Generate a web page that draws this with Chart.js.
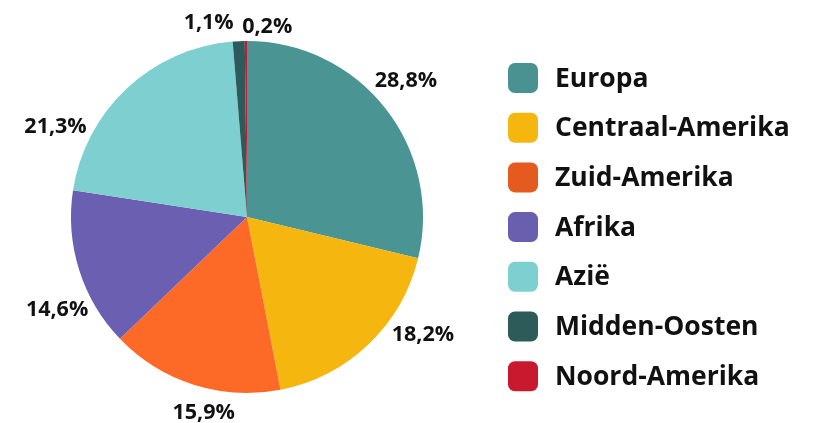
<!DOCTYPE html>
<html>
<head>
<meta charset="utf-8">
<script src="https://cdn.jsdelivr.net/npm/chart.js@4"></script>
<style>
  html, body { margin: 0; padding: 0; background: #fff; }
  #wrap { width: 814px; height: 423px; position: relative; }
</style>
</head>
<body>
<div id="wrap"><canvas id="myChart" width="814" height="423"></canvas></div>
<script>
let regions = ["Europa", "Centraal-Amerika", "Zuid-Amerika", "Afrika", "Azië", "Midden-Oosten", "Noord-Amerika"];
let shares = [28.8, 18.2, 15.9, 14.6, 21.3, 1.1, 0.2];
let sliceColors = ["#4a9594", "#f5b60f", "#fd6a27", "#6a5fb0", "#7ecfcf", "#2d5a5a", "#c8172e"];
let legendColors = ["#4a9292", "#f5b70f", "#e55b1f", "#6a5fae", "#7ecfcf", "#2d5b5a", "#c8192e"];

const FONT = "'Open Sans', 'Noto Sans', sans-serif";

// percentage labels outside the slices
const pctLabels = {
  id: "pctLabels",
  afterDatasetsDraw(chart, args, opts) {
    let ctx = chart.ctx;
    let arcs = chart.getDatasetMeta(0).data;
    ctx.save();
    ctx.font = "bold 21.5px " + FONT;
    ctx.fillStyle = "#111";
    ctx.textAlign = "center";
    ctx.textBaseline = "middle";
    arcs.forEach((arc, i) => {
      let mid = (arc.startAngle + arc.endAngle) / 2 + opts.shift[i] * Math.PI / 180;
      let r = arc.outerRadius + opts.gap[i];
      let x = arc.x + Math.cos(mid) * r;
      let y = arc.y + Math.sin(mid) * r;
      let txt = shares[i].toFixed(1).replace(".", ",") + "%";
      ctx.fillText(txt, x, y + 1);
    });
    ctx.restore();
  }
};

// legend on the right
const sideLegend = {
  id: "sideLegend",
  afterDraw(chart, args, opts) {
    let ctx = chart.ctx;
    ctx.save();
    ctx.font = "bold 26.5px " + FONT;
    ctx.textBaseline = "middle";
    regions.forEach((name, i) => {
      let cy = opts.top + i * opts.step;
      ctx.fillStyle = legendColors[i];
      ctx.beginPath();
      ctx.roundRect(opts.left, cy - 15, 30, 30, 7);
      ctx.fill();
      ctx.fillStyle = "#111";
      ctx.fillText(name, opts.left + 47, cy + 1);
    });
    ctx.restore();
  }
};

let ctx = document.getElementById("myChart").getContext("2d");

let myChart = new Chart(ctx, {
  type: "pie",
  data: {
    labels: regions,
    datasets: [{
      data: shares,
      backgroundColor: sliceColors,
      borderWidth: 0
    }]
  },
  options: {
    responsive: false,
    animation: false,
    layout: { padding: { left: 71, top: 41, right: 391, bottom: 30 } },
    plugins: {
      legend: { display: false },
      tooltip: { enabled: false },
      pctLabels: {
        shift: [-2.6, -12.8, -5.1, -8.3, -21.6, -8.4, 6.4],
        gap: [34, 35, 24, 35, 36, 23, 16]
      },
      sideLegend: { left: 508, top: 78, step: 49.7 }
    }
  },
  plugins: [pctLabels, sideLegend]
});
</script>
</body>
</html>
